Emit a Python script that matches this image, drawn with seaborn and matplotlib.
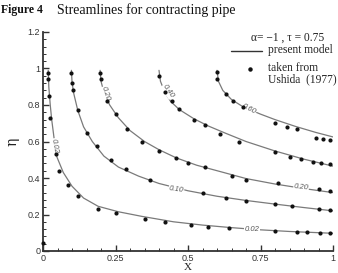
import numpy as np
import pandas as pd
import matplotlib
matplotlib.use("Agg")
import matplotlib.pyplot as plt
import seaborn as sns
from matplotlib.ticker import MultipleLocator, FixedLocator
from matplotlib.lines import Line2D

# ---- model streamlines ----
psi_levels = ["0.02", "0.10", "0.20", "0.40", "0.60"]
model_x_002 = [0.018, 0.02, 0.025, 0.03, 0.038, 0.048, 0.07, 0.1, 0.14, 0.19, 0.26, 0.34, 0.45, 0.55, 0.65, 0.75, 0.85, 1.0]
model_y_002 = [0.99, 0.9, 0.8, 0.72, 0.62, 0.515, 0.43, 0.355, 0.29, 0.245, 0.215, 0.19, 0.16, 0.142, 0.128, 0.116, 0.107, 0.097]
model_x_010 = [0.098, 0.1, 0.105, 0.12, 0.14, 0.17, 0.21, 0.26, 0.33, 0.4, 0.5, 0.6, 0.7, 0.8, 0.9, 1.0]
model_y_010 = [0.99, 0.93, 0.87, 0.77, 0.68, 0.6, 0.52, 0.46, 0.41, 0.37, 0.33, 0.3, 0.277, 0.257, 0.238, 0.22]
model_x_020 = [0.197, 0.2, 0.21, 0.23, 0.26, 0.3, 0.35, 0.4, 0.46, 0.53, 0.6, 0.7, 0.8, 0.9, 1.0]
model_y_020 = [0.99, 0.93, 0.87, 0.8, 0.73, 0.66, 0.6, 0.555, 0.51, 0.47, 0.44, 0.397, 0.367, 0.342, 0.32]
model_x_040 = [0.4, 0.405, 0.42, 0.44, 0.47, 0.52, 0.57, 0.63, 0.7, 0.8, 0.9, 1.0]
model_y_040 = [0.99, 0.93, 0.87, 0.82, 0.775, 0.725, 0.685, 0.645, 0.6, 0.548, 0.503, 0.465]
model_x_060 = [0.6, 0.605, 0.62, 0.65, 0.69, 0.75, 0.8, 0.87, 0.94, 1.0]
model_y_060 = [0.99, 0.93, 0.88, 0.83, 0.79, 0.75, 0.72, 0.683, 0.65, 0.625]

# ---- Ushida (1977) data points ----
ush_x_002 = [0.0, 0.016, 0.018, 0.022, 0.025, 0.045, 0.055, 0.085, 0.12, 0.19, 0.25, 0.35, 0.42, 0.51, 0.57, 0.64, 0.80, 0.875, 0.91, 0.955, 0.99]
ush_y_002 = [0.045, 0.975, 0.94, 0.85, 0.73, 0.53, 0.44, 0.36, 0.30, 0.23, 0.21, 0.175, 0.158, 0.142, 0.132, 0.127, 0.112, 0.105, 0.102, 0.1, 0.1]
ush_x_010 = [0.097, 0.1, 0.102, 0.12, 0.15, 0.185, 0.235, 0.285, 0.37, 0.55, 0.63, 0.70, 0.80, 0.86, 0.95, 0.99]
ush_y_010 = [0.975, 0.92, 0.88, 0.77, 0.645, 0.575, 0.50, 0.45, 0.39, 0.32, 0.29, 0.275, 0.26, 0.248, 0.232, 0.225]
ush_x_020 = [0.197, 0.2, 0.22, 0.25, 0.29, 0.34, 0.40, 0.46, 0.50, 0.56, 0.65, 0.70, 0.81, 0.95, 0.99]
ush_y_020 = [0.975, 0.94, 0.82, 0.75, 0.67, 0.60, 0.55, 0.51, 0.48, 0.46, 0.41, 0.39, 0.37, 0.34, 0.33]
ush_x_040 = [0.40, 0.42, 0.445, 0.47, 0.52, 0.56, 0.61, 0.675, 0.80, 0.85, 0.89, 0.93, 0.96, 0.99]
ush_y_040 = [0.96, 0.87, 0.82, 0.78, 0.72, 0.69, 0.64, 0.60, 0.54, 0.515, 0.505, 0.49, 0.48, 0.475]
ush_x_060 = [0.60, 0.60, 0.63, 0.655, 0.69, 0.80, 0.84, 0.875, 0.94, 0.965, 0.99]
ush_y_060 = [0.98, 0.94, 0.86, 0.82, 0.79, 0.70, 0.68, 0.67, 0.62, 0.615, 0.61]

x_ticks = [0, 0.25, 0.5, 0.75, 1]
x_tick_labels = ["0", "0.25", "0.5", "0.75", "1"]
y_ticks = [0, 0.2, 0.4, 0.6, 0.8, 1, 1.2]
y_tick_labels = ["0", "0.2", "0.4", "0.6", "0.8", "1", "1.2"]

# contour labels: text, x, y, rotation
clabel_text = ["0.02", "0.02", "0.10", "0.20", "0.20", "0.40", "0.60"]
clabel_x = [0.04, 0.72, 0.46, 0.215, 0.89, 0.43, 0.71]
clabel_y = [0.575, 0.118, 0.335, 0.86, 0.348, 0.875, 0.775]
clabel_rot = [-80, 0, -8, -72, -6, -55, -28]

models = [(model_x_002, model_y_002), (model_x_010, model_y_010), (model_x_020, model_y_020),
          (model_x_040, model_y_040), (model_x_060, model_y_060)]
ushs = [(ush_x_002, ush_y_002), (ush_x_010, ush_y_010), (ush_x_020, ush_y_020),
        (ush_x_040, ush_y_040), (ush_x_060, ush_y_060)]

model_df = pd.concat([pd.DataFrame({"x": mx, "eta": my, "psi": lv})
                      for (mx, my), lv in zip(models, psi_levels)], ignore_index=True)
ush_df = pd.concat([pd.DataFrame({"x": ux, "eta": uy, "psi": lv})
                    for (ux, uy), lv in zip(ushs, psi_levels)], ignore_index=True)

sns.set_theme(style="ticks")
plt.rcParams["font.family"] = ["Liberation Sans", "DejaVu Sans"]

fig = plt.figure(figsize=(3.38, 2.73), dpi=100)
ax = fig.add_axes([43 / 338, 22 / 273, 290 / 338, 219 / 273])

sns.lineplot(data=model_df, x="x", y="eta", units="psi", estimator=None, sort=False,
             color="#7a7a7a", linewidth=0.9, ax=ax, legend=False)
sns.scatterplot(data=ush_df, x="x", y="eta", color="#111111", s=9, linewidth=0,
                ax=ax, legend=False, clip_on=False, zorder=5)

for t, cx, cy, r in zip(clabel_text, clabel_x, clabel_y, clabel_rot):
    ax.text(cx, cy, t, fontsize=5.5, color="#555555", rotation=r, ha="center", va="center",
            style="italic", zorder=4,
            bbox=dict(boxstyle="square,pad=0.05", fc="white", ec="none"))

ax.set_xlim(0, 1)
ax.set_ylim(0, 1.2)
ax.xaxis.set_major_locator(FixedLocator(x_ticks))
ax.set_xticklabels(x_tick_labels)
ax.yaxis.set_major_locator(FixedLocator(y_ticks))
ax.set_yticklabels(y_tick_labels)
ax.xaxis.set_minor_locator(MultipleLocator(0.05))
ax.yaxis.set_minor_locator(MultipleLocator(0.04))
ax.tick_params(which="major", direction="in", length=4, width=1.0, labelsize=6.5, pad=2, color="#333333",
               labelcolor="#333333")
ax.tick_params(which="minor", direction="in", length=2, width=0.7, color="#333333")
for s in ["top", "right"]:
    ax.spines[s].set_visible(False)
for s in ["left", "bottom"]:
    ax.spines[s].set_linewidth(1.3)
    ax.spines[s].set_color("#333333")

ax.set_xlabel("X", fontsize=8, family="Liberation Serif", labelpad=0, color="#222222")
ax.set_ylabel("η", fontsize=10, family="DejaVu Serif", labelpad=6, color="#222222")

# legend-like annotation
fig.text(288 / 338, 1 - 38 / 273, "α= −1 , τ = 0.75", fontsize=8.3, family="Liberation Serif",
         ha="center", va="center", color="#222222")
fig.add_artist(Line2D([231 / 338, 262 / 338], [1 - 51 / 273, 1 - 51 / 273], color="#333333", linewidth=1.0))
fig.text(268 / 338, 1 - 50 / 273, "present model", fontsize=8.3, family="Liberation Serif",
         ha="left", va="center", color="#222222")
fig.add_artist(Line2D([250 / 338], [1 - 69 / 273], marker="o", markersize=2.2, color="#111111", linestyle="none"))
fig.text(268 / 338, 1 - 74 / 273, "taken from\nUshida  (1977)", fontsize=8.3, family="Liberation Serif",
         ha="left", va="center", color="#222222", linespacing=0.9)

# title
fig.text(1 / 338, 1 - 10 / 273, "Figure 4", fontsize=8.5, family="Liberation Serif", weight="bold",
         ha="left", va="center", color="#111111")
fig.text(57 / 338, 1 - 10 / 273, "Streamlines for contracting pipe", fontsize=10, family="Liberation Serif",
         ha="left", va="center", color="#111111")

fig.savefig("out.png", dpi=100)
